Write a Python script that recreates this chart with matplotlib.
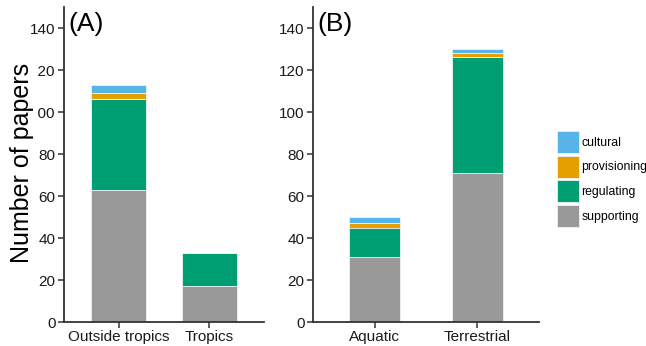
import matplotlib
matplotlib.use("Agg")
import matplotlib.pyplot as plt
from matplotlib.patches import Patch

# panel A: by region
categories_a = ["Outside tropics", "Tropics"]
supporting_a = [63, 17]
regulating_a = [43, 16]
provisioning_a = [3, 0]
cultural_a = [4, 0]

# panel B: by ecosystem
categories_b = ["Aquatic", "Terrestrial"]
supporting_b = [31, 71]
regulating_b = [14, 55]
provisioning_b = [2, 2]
cultural_b = [3, 2]

services = ["supporting", "regulating", "provisioning", "cultural"]
colors = {"supporting": "#999999", "regulating": "#009E73",
          "provisioning": "#E69F00", "cultural": "#56B4E9"}

yticks = [0, 20, 40, 60, 80, 100, 120, 140]

plt.rcParams["font.family"] = ["Liberation Sans", "DejaVu Sans"]
text_col = "#1a1a1a"
axis_col = "#333333"

fig = plt.figure(figsize=(6.46, 3.46), dpi=100)
ax_a = fig.add_axes([64 / 646, 1 - 322 / 346, 200 / 646, 315 / 346])
ax_b = fig.add_axes([313 / 646, 1 - 322 / 346, 226 / 646, 315 / 346])


def stacked(ax, cats, series, width, tag):
    x = list(range(1, len(cats) + 1))
    bottom = [0] * len(cats)
    for name in services:
        vals = series[name]
        ax.bar(x, vals, width=width, bottom=bottom, color=colors[name],
               edgecolor="#eef2f6", linewidth=0.6)
        bottom = [b + v for b, v in zip(bottom, vals)]
    ax.set_xlim(0.4, len(cats) + 0.6)
    ax.set_ylim(0, 150)
    ax.set_xticks(x)
    ax.set_xticklabels(cats)
    ax.set_yticks(yticks)
    for s in ["top", "right"]:
        ax.spines[s].set_visible(False)
    for s in ["left", "bottom"]:
        ax.spines[s].set_color(axis_col)
        ax.spines[s].set_linewidth(1.3)
    ax.tick_params(axis="both", labelsize=11, labelcolor=text_col,
                   color=axis_col, length=4, width=1.1, pad=2)
    ax.text(0.02, 0.946, tag, transform=ax.transAxes, fontsize=19,
            ha="left", va="center", color="black")


stacked(ax_a, categories_a,
        {"supporting": supporting_a, "regulating": regulating_a,
         "provisioning": provisioning_a, "cultural": cultural_a},
        0.6, "(A)")
stacked(ax_b, categories_b,
        {"supporting": supporting_b, "regulating": regulating_b,
         "provisioning": provisioning_b, "cultural": cultural_b},
        0.5, "(B)")

# y label sits over the left tick labels, like the original
fig.text(22 / 646, 0.53, "Number of papers", rotation=90, fontsize=18,
         ha="center", va="center", color="black",
         bbox=dict(facecolor="white", edgecolor="none", pad=3))

handles = [Patch(facecolor=colors[n], edgecolor="#eef2f6", linewidth=0.6, label=n)
           for n in services[::-1]]
fig.legend(handles=handles, loc="upper left",
           bbox_to_anchor=(557 / 646, 1 - 131 / 346), frameon=False,
           fontsize=8.8, handlelength=1.8, handleheight=2.39,
           labelspacing=0.22, handletextpad=0.18, borderpad=0,
           borderaxespad=0)

fig.savefig("out.png", dpi=100)
